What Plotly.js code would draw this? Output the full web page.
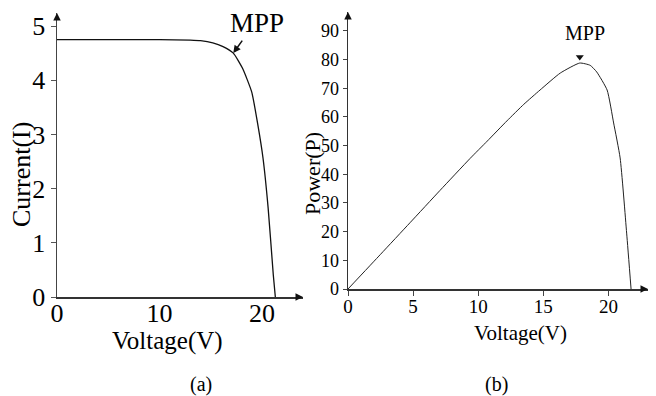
<!DOCTYPE html>
<html>
<head>
<meta charset="utf-8">
<script src="https://cdn.plot.ly/plotly-3.0.1.min.js"></script>
<style>html,body{margin:0;padding:0;background:#fff;}#chart{width:656px;height:396px;}</style>
</head>
<body>
<div id="chart"></div>
<script>
// I-V curve (a)
const voltageIV = [0, 5, 10, 13, 14, 15.2, 16.2, 17.2, 18.1, 19.0, 19.6, 20.1, 20.6, 21.1, 21.3];
const currentI  = [4.75, 4.75, 4.75, 4.74, 4.73, 4.69, 4.62, 4.50, 4.22, 3.78, 3.17, 2.56, 1.64, 0.41, 0];
// P-V curve (b)
const voltagePV = [0, 2.5, 4.76, 7.07, 9.37, 10.7, 12.2, 13.5, 14.75, 16.3, 17.8, 18.6, 19.1, 19.9, 20.4, 20.9, 21.4, 21.74];
const powerP    = [0, 12.1, 23.1, 34.4, 45.5, 51.6, 58.6, 64.4, 69.4, 75.3, 78.8, 78.0, 75.7, 69.4, 57.9, 45.7, 19.5, 0];
// MPP markers
const mppIV = {v: 17.2, i: 4.50};
const mppPV = {v: 17.8, p: 80.9};
// ticks
const ivXTicks = [0, 10, 20];
const ivYTicks = [0, 1, 2, 3, 4, 5];
const pvXTicks = [0, 5, 10, 15, 20];
const pvYTicks = [0, 10, 20, 30, 40, 50, 60, 70, 80, 90];

const W = 656, H = 396;
const px = v => v / W;
const py = v => 1 - v / H;
const serif = "Liberation Serif, Times New Roman, serif";

const traces = [
  {x: voltageIV, y: currentI, xaxis: 'x', yaxis: 'y', mode: 'lines',
   line: {color: '#111', width: 1.3, shape: 'spline', smoothing: 0.5}, hoverinfo: 'skip'},
  {x: voltagePV, y: powerP, xaxis: 'x2', yaxis: 'y2', mode: 'lines',
   line: {color: '#222', width: 1, shape: 'spline', smoothing: 0.5}, hoverinfo: 'skip'},
  {x: [mppPV.v], y: [mppPV.p], xaxis: 'x2', yaxis: 'y2', mode: 'markers',
   marker: {symbol: 'triangle-down', size: 7, color: '#111'}, hoverinfo: 'skip'}
];

const axBase = {showgrid: false, zeroline: false, showline: true, linewidth: 1.5,
  fixedrange: true, tickmode: 'array'};

const layout = {
  width: W, height: H,
  margin: {l: 0, r: 0, t: 0, b: 0},
  paper_bgcolor: '#fff', plot_bgcolor: 'rgba(0,0,0,0)',
  showlegend: false,
  font: {family: serif, color: '#000'},
  xaxis: Object.assign({}, axBase, {domain: [px(57), px(303)], range: [0, 24.0], anchor: 'y',
    tickvals: ivXTicks, ticks: '', ticklabelstandoff: -8, linecolor: '#333',
    tickfont: {family: serif, size: 26, color: '#000'}}),
  yaxis: Object.assign({}, axBase, {domain: [py(297), py(13)], range: [0, 5.24], anchor: 'x',
    tickvals: ivYTicks, ticks: 'outside', ticklen: 5, tickcolor: '#555', linecolor: '#444',
    tickfont: {family: serif, size: 26, color: '#000'}}),
  xaxis2: Object.assign({}, axBase, {domain: [px(348), px(648)], range: [0, 23.04], anchor: 'y2',
    tickvals: pvXTicks, ticks: 'outside', ticklen: 5, tickcolor: '#444', linecolor: '#333',
    ticklabelstandoff: -5,
    tickfont: {family: serif, size: 19, color: '#000'}}),
  yaxis2: Object.assign({}, axBase, {domain: [py(289), py(12)], range: [0, 96.6], anchor: 'x2',
    tickvals: pvYTicks, ticks: 'outside', ticklen: 4, tickcolor: '#444', linecolor: '#333',
    tickfont: {family: serif, size: 18, color: '#000'}}),
  annotations: [
    // axis end arrows
    {xref: 'x domain', yref: 'y domain', x: 1, y: 0, ax: -8, ay: 0, text: '', showarrow: true,
     arrowhead: 2, arrowsize: 1, arrowwidth: 1.5, arrowcolor: '#111'},
    {xref: 'x domain', yref: 'y domain', x: 0, y: 1, ax: 0, ay: 8, text: '', showarrow: true,
     arrowhead: 2, arrowsize: 1, arrowwidth: 1.5, arrowcolor: '#111'},
    {xref: 'x2 domain', yref: 'y2 domain', x: 1, y: 0, ax: -8, ay: 0, text: '', showarrow: true,
     arrowhead: 2, arrowsize: 1, arrowwidth: 1.5, arrowcolor: '#111'},
    {xref: 'x2 domain', yref: 'y2 domain', x: 0, y: 1, ax: 0, ay: 8, text: '', showarrow: true,
     arrowhead: 2, arrowsize: 1, arrowwidth: 1.5, arrowcolor: '#111'},
    // MPP (a)
    {xref: 'x', yref: 'y', x: mppIV.v, y: mppIV.i, ax: 10, ay: -14, text: '', showarrow: true,
     arrowhead: 2, arrowsize: 1, arrowwidth: 1.5, arrowcolor: '#111'},
    {xref: 'paper', yref: 'paper', x: px(257), y: py(23), text: 'MPP', showarrow: false,
     xanchor: 'center', yanchor: 'middle', font: {family: serif, size: 27, color: '#000'}},
    // MPP (b)
    {xref: 'paper', yref: 'paper', x: px(585), y: py(33), text: 'MPP', showarrow: false,
     xanchor: 'center', yanchor: 'middle', font: {family: serif, size: 20, color: '#000'}},
    // axis titles
    {xref: 'paper', yref: 'paper', x: px(167), y: py(341), text: 'Voltage(V)', showarrow: false,
     xanchor: 'center', yanchor: 'middle', font: {family: serif, size: 25, color: '#000'}},
    {xref: 'paper', yref: 'paper', x: px(21), y: py(175), text: 'Current(I)', showarrow: false,
     textangle: -90, xanchor: 'center', yanchor: 'middle', font: {family: serif, size: 26, color: '#000'}},
    {xref: 'paper', yref: 'paper', x: px(520), y: py(333), text: 'Voltage(V)', showarrow: false,
     xanchor: 'center', yanchor: 'middle', font: {family: serif, size: 21, color: '#000'}},
    {xref: 'paper', yref: 'paper', x: px(312), y: py(174), text: 'Power(P)', showarrow: false,
     textangle: -90, xanchor: 'center', yanchor: 'middle', font: {family: serif, size: 22, color: '#000'}},
    // panel labels
    {xref: 'paper', yref: 'paper', x: px(201), y: py(384), text: '(a)', showarrow: false,
     xanchor: 'center', yanchor: 'middle', font: {family: serif, size: 20, color: '#000'}},
    {xref: 'paper', yref: 'paper', x: px(497), y: py(384), text: '(b)', showarrow: false,
     xanchor: 'center', yanchor: 'middle', font: {family: serif, size: 20, color: '#000'}}
  ]
};

Plotly.newPlot('chart', traces, layout, {displayModeBar: false, staticPlot: true});
</script>
</body>
</html>
